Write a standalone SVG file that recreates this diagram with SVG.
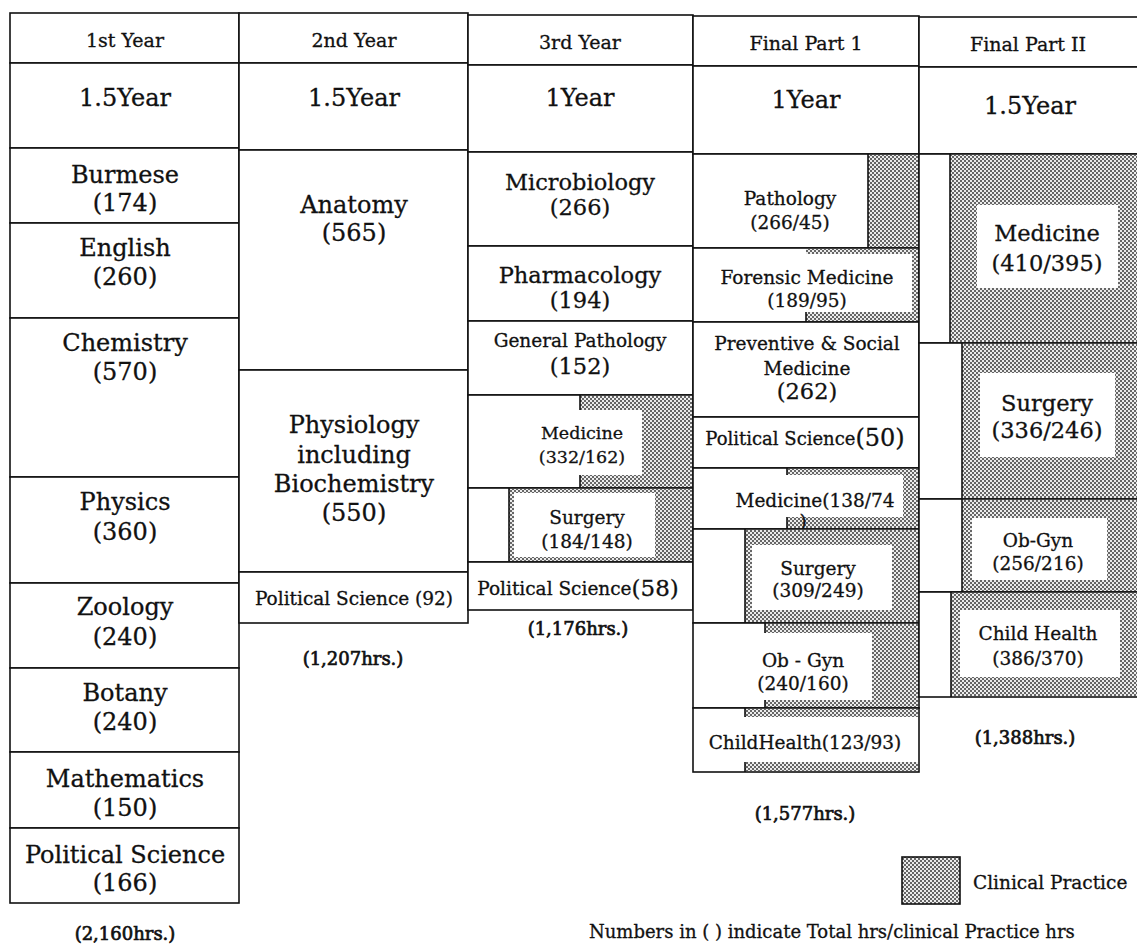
<svg xmlns="http://www.w3.org/2000/svg" width="1137" height="944" viewBox="0 0 1137 944">
<defs>
<pattern id="cp" width="4" height="4" patternUnits="userSpaceOnUse">
<rect width="4" height="4" fill="#ececec"/>
<rect width="2" height="2" fill="#666"/>
<rect x="2" y="2" width="2" height="2" fill="#666"/>
</pattern>
</defs>
<style>
text{font-family:"DejaVu Serif","Liberation Serif",serif;fill:#111;stroke:#111;stroke-width:0.3;text-anchor:middle;dominant-baseline:central}
.c{fill:#fff;stroke:#111;stroke-width:1.6}
.h{font-size:19px}
.y{font-size:24px}
.l{font-size:24px}
.m{font-size:22.5px}
.s{font-size:18.5px}
.xs{font-size:17.5px}
.tot{font-size:18px;stroke-width:0.7}
.sh{fill:url(#cp)}
.w{fill:#fff}
.ln{stroke:#111;stroke-width:1.6;fill:none}
</style>
<rect width="1137" height="944" fill="#fff"/>

<!-- Column 1 -->
<g id="c1-head"><rect class="c" x="10" y="13" width="229" height="50"/><text class="h" x="125" y="40">1st Year</text></g>
<g id="c1-dur"><rect class="c" x="10" y="63" width="229" height="85"/><text class="y" x="125" y="98">1.5Year</text></g>
<g id="c1-burmese"><rect class="c" x="10" y="148" width="229" height="75"/><text class="l" x="125" y="175">Burmese</text><text class="l" x="125" y="203">(174)</text></g>
<g id="c1-english"><rect class="c" x="10" y="223" width="229" height="95"/><text class="l" x="125" y="248">English</text><text class="l" x="125" y="277">(260)</text></g>
<g id="c1-chemistry"><rect class="c" x="10" y="318" width="229" height="159"/><text class="l" x="125" y="343">Chemistry</text><text class="l" x="125" y="372">(570)</text></g>
<g id="c1-physics"><rect class="c" x="10" y="477" width="229" height="106"/><text class="l" x="125" y="502">Physics</text><text class="l" x="125" y="532">(360)</text></g>
<g id="c1-zoology"><rect class="c" x="10" y="583" width="229" height="85"/><text class="l" x="125" y="607">Zoology</text><text class="l" x="125" y="637">(240)</text></g>
<g id="c1-botany"><rect class="c" x="10" y="668" width="229" height="84"/><text class="l" x="125" y="693">Botany</text><text class="l" x="125" y="722">(240)</text></g>
<g id="c1-math"><rect class="c" x="10" y="752" width="229" height="76"/><text class="l" x="125" y="779">Mathematics</text><text class="l" x="125" y="808">(150)</text></g>
<g id="c1-polsci"><rect class="c" x="10" y="828" width="229" height="75"/><text class="l" x="125" y="855">Political Science</text><text class="l" x="125" y="883">(166)</text></g>
<g id="c1-total"><text class="tot" x="125" y="933">(2,160hrs.)</text></g>

<!-- Column 2 -->
<g id="c2-head"><rect class="c" x="239" y="13" width="229" height="50"/><text class="h" x="354" y="40">2nd Year</text></g>
<g id="c2-dur"><rect class="c" x="239" y="63" width="229" height="87"/><text class="y" x="354" y="98">1.5Year</text></g>
<g id="c2-anatomy"><rect class="c" x="239" y="150" width="229" height="220"/><text class="l" x="354" y="205">Anatomy</text><text class="l" x="354" y="233">(565)</text></g>
<g id="c2-physiology"><rect class="c" x="239" y="370" width="229" height="202"/><text class="l" x="354" y="425">Physiology</text><text class="l" x="354" y="455">including</text><text class="l" x="354" y="484">Biochemistry</text><text class="l" x="354" y="513">(550)</text></g>
<g id="c2-polsci"><rect class="c" x="239" y="572" width="229" height="51"/><text class="s" x="354" y="598">Political Science (92)</text></g>
<g id="c2-total"><text class="tot" x="353" y="658">(1,207hrs.)</text></g>

<!-- Column 3 -->
<g id="c3-head"><rect class="c" x="468" y="15" width="225" height="50"/><text class="h" x="580" y="42">3rd Year</text></g>
<g id="c3-dur"><rect class="c" x="468" y="65" width="225" height="87"/><text class="y" x="580" y="98">1Year</text></g>
<g id="c3-micro"><rect class="c" x="468" y="152" width="225" height="94"/><text class="m" x="580" y="182">Microbiology</text><text class="m" x="580" y="207">(266)</text></g>
<g id="c3-pharm"><rect class="c" x="468" y="246" width="225" height="75"/><text class="m" x="580" y="275">Pharmacology</text><text class="m" x="580" y="300">(194)</text></g>
<g id="c3-genpath"><rect class="c" x="468" y="321" width="225" height="74"/><text class="s" x="580" y="340">General Pathology</text><text class="m" x="580" y="366">(152)</text></g>
<g id="c3-medicine"><rect class="c" x="468" y="395" width="225" height="93"/>
<rect class="sh" x="580" y="396" width="112" height="91"/><rect class="w" x="580" y="410" width="62" height="65"/>
<path class="ln" d="M580 395V410M580 475V488"/>
<text class="xs" x="582" y="433">Medicine</text><text class="xs" x="582" y="457">(332/162)</text></g>
<g id="c3-surgery"><rect class="c" x="468" y="488" width="225" height="74"/>
<rect class="sh" x="509" y="489" width="183" height="72"/><rect class="w" x="514" y="493" width="141" height="64"/>
<path class="ln" d="M509 488V562"/>
<text class="s" x="587" y="517">Surgery</text><text class="s" x="587" y="541">(184/148)</text></g>
<g id="c3-polsci"><rect class="c" x="468" y="562" width="225" height="48"/><text class="s" x="578" y="588">Political Science<tspan font-size="23px">(58)</tspan></text></g>
<g id="c3-total"><text class="tot" x="578" y="628">(1,176hrs.)</text></g>

<!-- Column 4 -->
<g id="c4-head"><rect class="c" x="693" y="16" width="226" height="50"/><text class="h" x="806" y="43">Final Part 1</text></g>
<g id="c4-dur"><rect class="c" x="693" y="66" width="226" height="88"/><text class="y" x="806" y="100">1Year</text></g>
<g id="c4-pathology"><rect class="c" x="693" y="154" width="226" height="94"/>
<rect class="sh" x="868" y="155" width="50" height="92"/><path class="ln" d="M868 154V248"/>
<text class="s" x="790" y="198">Pathology</text><text class="s" x="790" y="222">(266/45)</text></g>
<g id="c4-forensic"><rect class="c" x="693" y="248" width="226" height="74"/>
<rect class="sh" x="806" y="249" width="112" height="72"/><rect class="w" x="694" y="254" width="218" height="58"/>
<path class="ln" d="M806 312V322"/>
<text class="s" x="807" y="277">Forensic Medicine</text><text class="s" x="807" y="300">(189/95)</text></g>
<g id="c4-preventive"><rect class="c" x="693" y="322" width="226" height="95"/><text class="s" x="807" y="343">Preventive &amp; Social</text><text class="s" x="807" y="368">Medicine</text><text class="m" x="807" y="391">(262)</text></g>
<g id="c4-polsci"><rect class="c" x="693" y="417" width="226" height="51"/><text class="s" x="805" y="438"><tspan font-size="18px">Political Science</tspan><tspan font-size="24px">(50)</tspan></text></g>
<g id="c4-medicine"><rect class="c" x="693" y="468" width="226" height="61"/>
<rect class="sh" x="787" y="469" width="131" height="59"/><rect class="w" x="694" y="475" width="209" height="42"/>
<path class="ln" d="M787 468V475M787 517V529"/>
<text class="s" x="815" y="500">Medicine(138/74</text><text class="s" x="803" y="521">)</text></g>
<g id="c4-surgery"><rect class="c" x="693" y="529" width="226" height="94"/>
<rect class="sh" x="745" y="530" width="173" height="92"/><rect class="w" x="752" y="545" width="140" height="65"/>
<path class="ln" d="M745 529V623"/>
<text class="s" x="818" y="568">Surgery</text><text class="s" x="818" y="590">(309/249)</text></g>
<g id="c4-obgyn"><rect class="c" x="693" y="623" width="226" height="85"/>
<rect class="sh" x="765" y="624" width="153" height="83"/><rect class="w" x="694" y="633" width="178" height="67"/>
<path class="ln" d="M765 623V633M765 700V708"/>
<text class="s" x="803" y="660">Ob - Gyn</text><text class="s" x="803" y="683">(240/160)</text></g>
<g id="c4-child"><rect class="c" x="693" y="708" width="226" height="64"/>
<rect class="sh" x="745" y="709" width="173" height="62"/><rect class="w" x="694" y="717" width="224" height="45"/>
<path class="ln" d="M745 708V717M745 762V772"/>
<text class="s" x="805" y="742">ChildHealth(123/93)</text></g>
<g id="c4-total"><text class="tot" x="805" y="813">(1,577hrs.)</text></g>

<!-- Column 5 -->
<g id="c5-head"><rect class="c" x="919" y="17" width="230" height="50"/><text class="h" x="1028" y="44">Final Part II</text></g>
<g id="c5-dur"><rect class="c" x="919" y="67" width="230" height="87"/><text class="y" x="1030" y="106">1.5Year</text></g>
<g id="c5-medicine"><rect class="c" x="919" y="154" width="230" height="189"/>
<rect class="sh" x="950" y="155" width="187" height="187"/><rect class="w" x="977" y="205" width="141" height="83"/>
<path class="ln" d="M950 154V343"/>
<text class="m" x="1047" y="233">Medicine</text><text class="m" x="1047" y="263">(410/395)</text></g>
<g id="c5-surgery"><rect class="c" x="919" y="343" width="230" height="156"/>
<rect class="sh" x="962" y="344" width="175" height="154"/><rect class="w" x="980" y="373" width="135" height="84"/>
<path class="ln" d="M962 343V499"/>
<text class="m" x="1047" y="403">Surgery</text><text class="m" x="1047" y="430">(336/246)</text></g>
<g id="c5-obgyn"><rect class="c" x="919" y="499" width="230" height="93"/>
<rect class="sh" x="962" y="500" width="175" height="91"/><rect class="w" x="972" y="518" width="135" height="62"/>
<path class="ln" d="M962 499V592"/>
<text class="s" x="1038" y="540">Ob-Gyn</text><text class="s" x="1038" y="563">(256/216)</text></g>
<g id="c5-child"><rect class="c" x="919" y="592" width="230" height="105"/>
<rect class="sh" x="951" y="593" width="186" height="103"/><rect class="w" x="960" y="610" width="160" height="67"/>
<path class="ln" d="M951 592V697"/>
<text class="s" x="1038" y="633">Child Health</text><text class="s" x="1038" y="658">(386/370)</text></g>
<g id="c5-total"><text class="tot" x="1025" y="737">(1,388hrs.)</text></g>

<g id="connectors"></g>

<!-- Legend -->
<g id="legend">
<rect class="sh" x="902" y="857" width="58" height="47" stroke="#111" stroke-width="1.6"/>
<text class="s" x="973" y="882" style="text-anchor:start">Clinical Practice</text>
</g>
<g id="note"><text class="s" x="589" y="931" style="text-anchor:start;font-size:18px">Numbers in ( ) indicate Total hrs/clinical Practice hrs</text></g>
</svg>
